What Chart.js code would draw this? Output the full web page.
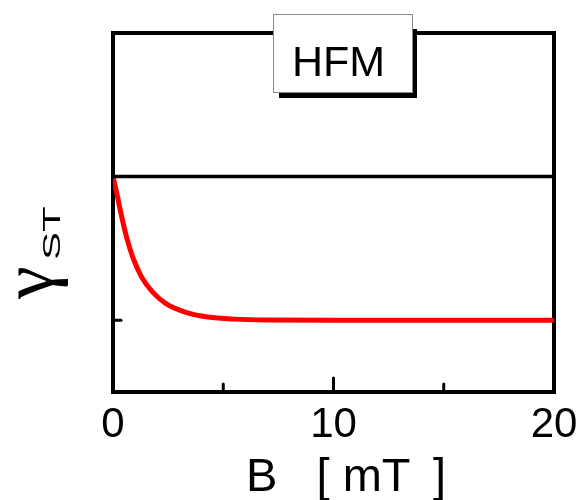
<!DOCTYPE html>
<html>
<head>
<meta charset="utf-8">
<script src="https://cdn.jsdelivr.net/npm/chart.js@4/dist/chart.umd.min.js"></script>
<style>
  html, body { margin: 0; padding: 0; background: #fff; }
  #wrap { width: 580px; height: 500px; }
</style>
</head>
<body>
<div id="wrap"><canvas id="c" width="580" height="500"></canvas></div>
<script>
// ---- data ----
const fieldB   = [0, 0.15, 0.3, 0.6, 0.9, 1.3, 1.8, 2.4, 3.3, 4.3, 5.5, 7, 10, 15, 20];     // B [mT]
const gammaHFM = [0.60, 0.56, 0.515, 0.435, 0.375, 0.32, 0.278, 0.246, 0.222, 0.209, 0.203, 0.2005, 0.200, 0.200, 0.200];
const refB     = [0, 20];
const refGamma = [0.60, 0.60];
const xTickValues  = [0, 10, 20];
const xMinorTicks  = [5, 15];
const yTickValues  = [0.2];
const legendLabel  = "HFM";
const xTitle = "B   [ mT \u2009]";
const yTitleMain = "γ";
const yTitleSub  = "ST";

const FONT = "'Liberation Sans', Arial, sans-serif";

const toXY = (xs, ys) => xs.map((x, i) => ({ x: x, y: ys[i] }));

const framePlugin = {
  id: 'frame',
  beforeDatasetsDraw(chart) {
    const { ctx, chartArea: a, scales } = chart;
    ctx.save();
    ctx.strokeStyle = '#000';
    ctx.lineWidth = 4;
    ctx.lineCap = 'square';
    ctx.strokeRect(a.left, a.top, a.right - a.left, a.bottom - a.top);
    // inward ticks
    ctx.lineWidth = 3;
    ctx.lineCap = 'round';
    const xs = scales.x, ys = scales.y;
    xTickValues.forEach(v => {
      const px = xs.getPixelForValue(v);
      ctx.beginPath(); ctx.moveTo(px, a.bottom); ctx.lineTo(px, a.bottom - 14); ctx.stroke();
    });
    xMinorTicks.forEach(v => {
      const px = xs.getPixelForValue(v);
      ctx.beginPath(); ctx.moveTo(px, a.bottom); ctx.lineTo(px, a.bottom - 8); ctx.stroke();
    });
    yTickValues.forEach(v => {
      const py = ys.getPixelForValue(v);
      ctx.beginPath(); ctx.moveTo(a.left, py); ctx.lineTo(a.left + 8, py); ctx.stroke();
    });
    ctx.restore();
  },
  afterDraw(chart) {
    const { ctx } = chart;
    ctx.save();
    // legend box with shadow
    const bx = 273, by = 14, bw = 140, bh = 79;
    ctx.fillStyle = '#000';
    ctx.fillRect(bx + 6, by + bh, bw - 2, 5);
    ctx.fillRect(bx + bw, 29, 4, by + bh + 5 - 29);
    ctx.fillStyle = '#fff';
    ctx.fillRect(bx, by, bw, bh);
    ctx.strokeStyle = '#8a8a8a';
    ctx.lineWidth = 1;
    ctx.strokeRect(bx + 0.5, by + 0.5, bw - 1, bh - 1);
    ctx.fillStyle = '#000';
    ctx.font = '43px ' + FONT;
    ctx.textBaseline = 'alphabetic';
    ctx.textAlign = 'left';
    ctx.fillText(legendLabel, 292, 76);

    // x title
    ctx.font = '47px ' + FONT;
    ctx.textAlign = 'left';
    ctx.fillText(xTitle, 246, 491);

    // y title (rotated)
    ctx.translate(52, 298);
    ctx.rotate(-Math.PI / 2);
    ctx.textAlign = 'left';
    ctx.save();
    ctx.font = "74px 'Liberation Serif', serif";
    ctx.fillText(yTitleMain, -1, 0);
    ctx.restore();
    ctx.save();
    ctx.translate(38, 8);
    ctx.scale(1.75, 1);
    ctx.font = '24px ' + FONT;
    ctx.fillText(yTitleSub, 0, 0);
    ctx.restore();
    ctx.restore();
  }
};

new Chart(document.getElementById('c'), {
  type: 'line',
  data: {
    datasets: [
      {
        data: toXY(refB, refGamma),
        borderColor: '#000',
        borderWidth: 3.5,
        pointRadius: 0,
        tension: 0
      },
      {
        data: toXY(fieldB, gammaHFM),
        borderColor: '#ff0000',
        borderWidth: 5,
        pointRadius: 0,
        cubicInterpolationMode: 'monotone'
      }
    ]
  },
  options: {
    responsive: false,
    animation: false,
    devicePixelRatio: 1,
    layout: { padding: { left: 113, right: 26, top: 33, bottom: 0 } },
    plugins: { legend: { display: false }, tooltip: { enabled: false }, title: { display: false } },
    scales: {
      x: {
        type: 'linear',
        min: 0, max: 20,
        grid: { display: false, drawTicks: false },
        border: { display: false },
        afterBuildTicks(scale) { scale.ticks = xTickValues.map(v => ({ value: v })); },
        afterFit(scale) {
          scale.height = 108;
          scale.paddingLeft = 0;
          scale.paddingRight = 0;
        },
        ticks: {
          padding: 8,
          color: '#000',
          font: { family: FONT, size: 42 },
          maxRotation: 0,
          autoSkip: false
        }
      },
      y: {
        type: 'linear',
        min: 0, max: 1,
        display: false
      }
    }
  },
  plugins: [framePlugin]
});
</script>
</body>
</html>
